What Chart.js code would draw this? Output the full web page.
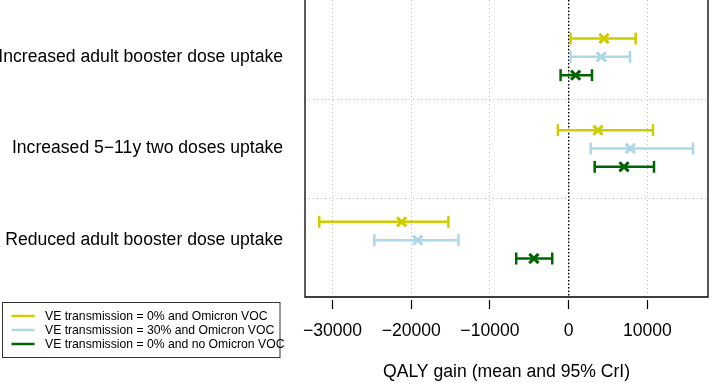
<!DOCTYPE html>
<html>
<head>
<meta charset="utf-8">
<script src="https://cdn.jsdelivr.net/npm/chart.js@4.4.0/dist/chart.umd.min.js"></script>
<style>
  html, body { margin: 0; padding: 0; background: #fff; }
  #wrap { width: 709px; height: 383px; }
</style>
</head>
<body>
<div id="wrap"><canvas id="qalyChart"></canvas></div>
<script>
// interventions (top to bottom) and scenarios
const interventions = ['Increased adult booster dose uptake', 'Increased 5\u221211y two doses uptake', 'Reduced adult booster dose uptake'];
const scenarioLabels = ['VE transmission = 0% and Omicron VOC', 'VE transmission = 30% and Omicron VOC', 'VE transmission = 0% and no Omicron VOC'];
const scenarioColors = ['#cdcd00', '#add8e6', '#006400'];

// QALY gain, mean and 95% CrI, one value per intervention
const meanVE0 = [4480, 3720, -21220];
const lowVE0 = [240, -1370, -31690];
const highVE0 = [8510, 10710, -15280];

const meanVE30 = [4140, 7830, -19180];
const lowVE30 = [240, 2790, -24690];
const highVE30 = [7790, 15800, -14000];

const meanNoVoc = [880, 7030, -4420];
const lowNoVoc = [-1030, 3300, -6670];
const highNoVoc = [2960, 10840, -2090];

const xTicks = [-30000, -20000, -10000, 0, 10000];

const means = [meanVE0, meanVE30, meanNoVoc];
const lows = [lowVE0, lowVE30, lowNoVoc];
const highs = [highVE0, highVE30, highNoVoc];

const yMin = -2.1, yMax = 14.1;
const rowOf = (g, s) => g * 5 + s;
const font = "'Liberation Sans', Arial, Helvetica, sans-serif";

// each interval: low, mean, high, then a gap
const datasets = scenarioLabels.map((label, s) => {
    const data = [];
    interventions.forEach((name, g) => {
        const y = rowOf(g, s);
        data.push({x: lows[s][g], y: y}, {x: means[s][g], y: y}, {x: highs[s][g], y: y}, {x: null, y: null});
    });
    const isMean = ctx => ctx.dataIndex % 4 === 1;
    return {
        label: label,
        data: data,
        showLine: true,
        spanGaps: false,
        borderColor: scenarioColors[s],
        backgroundColor: scenarioColors[s],
        borderWidth: 2.5,
        pointStyle: ctx => isMean(ctx) ? 'crossRot' : 'line',
        pointRotation: ctx => isMean(ctx) ? 0 : 90,
        pointRadius: ctx => isMean(ctx) ? 6.5 : 6,
        pointBorderWidth: ctx => isMean(ctx) ? 3 : 2.5,
        pointBorderColor: scenarioColors[s]
    };
});

// reference line at zero
datasets.push({
    label: 'zero',
    data: [{x: 0, y: yMin}, {x: 0, y: yMax}],
    showLine: true,
    borderColor: '#000',
    borderWidth: 1.4,
    borderDash: [1.5, 2],
    pointRadius: 0
});

const framePlugin = {
    id: 'frame',
    afterDatasetsDraw(chart) {
        const {ctx, chartArea: a} = chart;
        ctx.save();
        ctx.strokeStyle = '#000';
        ctx.lineWidth = 1.3;
        ctx.beginPath();
        ctx.moveTo(a.left, a.top - 2);
        ctx.lineTo(a.left, a.bottom);
        ctx.lineTo(a.right, a.bottom);
        ctx.lineTo(a.right, a.top - 2);
        ctx.stroke();
        ctx.restore();
    }
};

const legendPlugin = {
    id: 'boxLegend',
    afterDraw(chart) {
        const ctx = chart.ctx;
        ctx.save();
        ctx.strokeStyle = '#333';
        ctx.lineWidth = 1;
        ctx.strokeRect(2.5, 302.5, 277.5, 55);
        ctx.font = '12.2px ' + font;
        ctx.textBaseline = 'middle';
        ctx.fillStyle = '#000';
        chart.data.datasets.slice(0, 3).forEach((ds, i) => {
            const y = 316 + i * 14;
            ctx.strokeStyle = ds.borderColor;
            ctx.lineWidth = 2.5;
            ctx.beginPath();
            ctx.moveTo(11.5, y);
            ctx.lineTo(34.5, y);
            ctx.stroke();
            ctx.fillText(ds.label, 45, y + 0.5);
        });
        ctx.restore();
    }
};

const noPad = s => { s.paddingTop = 0; s.paddingBottom = 0; s.paddingLeft = 0; s.paddingRight = 0; };

new Chart(document.getElementById('qalyChart'), {
    type: 'scatter',
    data: { datasets: datasets },
    options: {
        responsive: true,
        maintainAspectRatio: false,
        animation: false,
        events: [],
        layout: { autoPadding: false, padding: { top: 0, right: 1, bottom: 0, left: 0 } },
        plugins: {
            legend: { display: false },
            tooltip: { enabled: false }
        },
        scales: {
            x: {
                type: 'linear',
                position: 'bottom',
                min: -33500,
                max: 17700,
                afterBuildTicks: s => { s.ticks = xTicks.map(v => ({value: v})); },
                afterFit: s => { s.height = 86; noPad(s); },
                ticks: {
                    autoSkip: false,
                    maxRotation: 0,
                    padding: 12,
                    color: '#000',
                    font: { family: font, size: 17.6 },
                    callback: v => v < 0 ? '\u2212' + Math.abs(v) : String(v)
                },
                grid: {
                    color: '#bdbdbd',
                    lineWidth: 1,
                    tickColor: '#000',
                    tickLength: 12,
                    tickWidth: 1.2,
                    tickBorderDash: [0, 3, 9, 40]
                },
                border: { display: false, dash: [1, 3] },
                title: {
                    display: true,
                    text: 'QALY gain (mean and 95% CrI)',
                    color: '#000',
                    font: { family: font, size: 17.6 },
                    padding: { top: 0, bottom: 0 }
                }
            },
            y: {
                type: 'linear',
                position: 'left',
                reverse: true,
                min: yMin,
                max: yMax,
                afterBuildTicks: s => { s.ticks = interventions.map((n, g) => ({value: rowOf(g, 1)})); },
                afterFit: s => { s.width = 305; noPad(s); },
                ticks: {
                    autoSkip: false,
                    padding: 22,
                    color: '#000',
                    font: { family: font, size: 17.6 },
                    callback: (v, i) => interventions[i]
                },
                grid: { display: false, drawTicks: false },
                border: { display: false }
            },
            yGrid: {
                type: 'linear',
                position: 'right',
                reverse: true,
                min: yMin,
                max: yMax,
                afterBuildTicks: s => {
                    const step = (yMax - yMin) / 3;
                    s.ticks = [yMin + step, yMin + 2 * step].map(v => ({value: v}));
                },
                afterFit: s => { s.width = 0; noPad(s); },
                ticks: { display: false },
                grid: { color: '#bdbdbd', lineWidth: 1, drawTicks: false },
                border: { display: false, dash: [1, 3] }
            }
        }
    },
    plugins: [framePlugin, legendPlugin]
});
</script>
</body>
</html>
